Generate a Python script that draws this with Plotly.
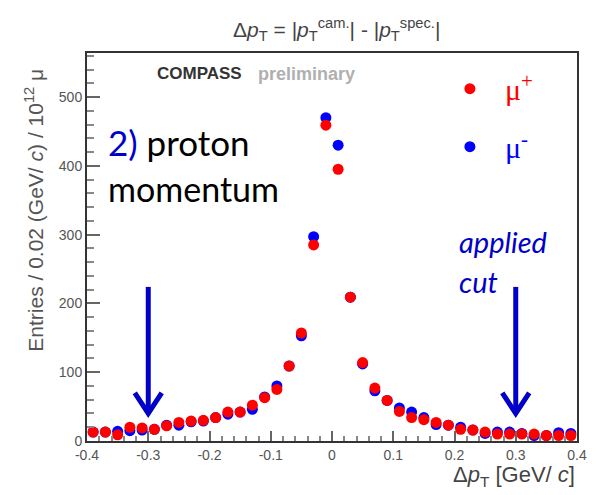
import plotly.graph_objects as go

# bin centres (width 0.02 GeV/c)
dpt = [-0.39, -0.37, -0.35, -0.33, -0.31, -0.29, -0.27, -0.25, -0.23, -0.21,
       -0.19, -0.17, -0.15, -0.13, -0.11, -0.09, -0.07, -0.05, -0.03, -0.01,
       0.01, 0.03, 0.05, 0.07, 0.09, 0.11, 0.13, 0.15, 0.17, 0.19,
       0.21, 0.23, 0.25, 0.27, 0.29, 0.31, 0.33, 0.35, 0.37, 0.39]

mu_plus = [13, 13, 9, 20, 19, 17, 22, 27, 29, 30,
           34, 42, 42, 52, 63, 75, 109, 157, 285, 459,
           395, 209, 114, 77, 59, 43, 34, 31, 27, 23,
           17, 16, 13, 10, 10, 10, 10, 8, 8, 8]

mu_minus = [13, 13, 14, 15, 16, 17, 23, 23, 28, 29,
            34, 39, 42, 46, 64, 80, 109, 153, 297, 470,
            430, 209, 112, 73, 59, 48, 42, 34, 24, 23,
            20, 16, 11, 13, 13, 11, 8, 8, 12, 11]

x_ticks = [-0.4, -0.3, -0.2, -0.1, 0, 0.1, 0.2, 0.3, 0.4]
x_ticklabels = ["-0.4", "-0.3", "-0.2", "-0.1", "0", "0.1", "0.2", "0.3", "0.4"]
y_ticks = [0, 100, 200, 300, 400, 500]

cut_x = [-0.3, 0.3]
arrow_top = 224
arrow_tip = 40

RED = "#ff0000"
BLUE = "#0000ff"
ARROW = "#0000c8"

fig = go.Figure()
fig.add_trace(go.Scatter(
    x=dpt, y=mu_minus, mode="markers", name="<span style='color:#0000ff'>μ<sup>-</sup></span>",
    marker=dict(color=BLUE, size=11), legendrank=2, legendgroup="b"))
fig.add_trace(go.Scatter(
    x=dpt, y=mu_plus, mode="markers", name="<span style='color:#ff0000'>μ<sup>+</sup></span>",
    marker=dict(color=RED, size=11), legendrank=1, legendgroup="a"))

# arrows marking the applied cut
for cx in cut_x:
    fig.add_shape(type="line", x0=cx, x1=cx, y0=arrow_top, y1=arrow_tip + 3,
                  line=dict(color=ARROW, width=5), xref="x", yref="y")
    hw = 0.022
    hh = 30
    fig.add_shape(type="path",
                  path=f"M {cx-hw},{arrow_tip+hh} L {cx},{arrow_tip} L {cx+hw},{arrow_tip+hh}",
                  line=dict(color=ARROW, width=5), xref="x", yref="y")

axis_font = dict(family="Liberation Sans", size=14, color="#555555")

fig.update_xaxes(
    range=[-0.4, 0.4], tickvals=x_ticks, ticktext=x_ticklabels,
    ticks="inside", ticklen=10, tickwidth=1.5, tickcolor="#666666",
    minor=dict(dtick=0.02, tick0=0, ticks="inside", ticklen=5, tickcolor="#888888", tickwidth=1.5),
    showline=True, linecolor="#333333", linewidth=2, mirror=True,
    showgrid=False, zeroline=False, tickfont=axis_font)
fig.update_yaxes(
    range=[0, 564], tickvals=y_ticks,
    ticks="inside", ticklen=13, tickwidth=2, tickcolor="#666666",
    minor=dict(dtick=20, tick0=0, ticks="inside", ticklen=7, tickcolor="#888888", tickwidth=1.5),
    showline=True, linecolor="#333333", linewidth=2, mirror=True,
    showgrid=False, zeroline=False, tickfont=axis_font)

annots = [
    dict(text="Δ<i>p</i><sub>T</sub> = |<i>p</i><sub>T</sub><sup>cam.</sup>| - |<i>p</i><sub>T</sub><sup>spec.</sup>|",
         x=0.51, y=1.06, xanchor="center", yanchor="middle",
         font=dict(family="Liberation Sans", size=21, color="#444444")),
    dict(text="Entries / 0.02 (GeV/ <i>c</i>) / 10<sup>12</sup> μ", textangle=-90,
         x=-0.107, y=0.595, xanchor="center", yanchor="middle",
         font=dict(family="Liberation Sans", size=21, color="#555555")),
    dict(text="Δ<i>p</i><sub>T</sub> [GeV/ <i>c</i>]", x=1.0, y=-0.09,
         xanchor="right", yanchor="middle",
         font=dict(family="Liberation Sans", size=22, color="#444444")),
    dict(text="<b>COMPASS</b>", x=0.138, y=0.947, xanchor="left", yanchor="middle",
         font=dict(family="Liberation Sans", size=17, color="#333333")),
    dict(text="<b>preliminary</b>", x=0.344, y=0.947, xanchor="left", yanchor="middle",
         font=dict(family="Liberation Sans", size=18, color="#b0b0b0")),
    dict(text="<span style='color:#0000cc'>2)</span> proton", x=0.038, y=0.77,
         xanchor="left", yanchor="middle",
         font=dict(family="Lato", size=35, color="#000000")),
    dict(text="momentum", x=0.038, y=0.65, xanchor="left", yanchor="middle",
         font=dict(family="Lato", size=34, color="#000000")),
    dict(text="<i>applied</i>", x=0.755, y=0.515, xanchor="left", yanchor="middle",
         font=dict(family="Lato", size=29, color="#0000cc")),
    dict(text="<i>cut</i>", x=0.755, y=0.41, xanchor="left", yanchor="middle",
         font=dict(family="Lato", size=29, color="#0000cc")),
]
for a in annots:
    a.update(xref="paper", yref="paper", showarrow=False)
    fig.add_annotation(**a)

fig.update_layout(
    width=600, height=495,
    margin=dict(l=87, r=23, t=53, b=54),
    plot_bgcolor="white", paper_bgcolor="white",
    showlegend=True,
    legend=dict(x=0.71, y=0.975, xanchor="left", yanchor="top",
                font=dict(family="Liberation Serif", size=30),
                itemwidth=60, tracegroupgap=16, bgcolor="rgba(0,0,0,0)"),
)

fig.write_html("out.html")
